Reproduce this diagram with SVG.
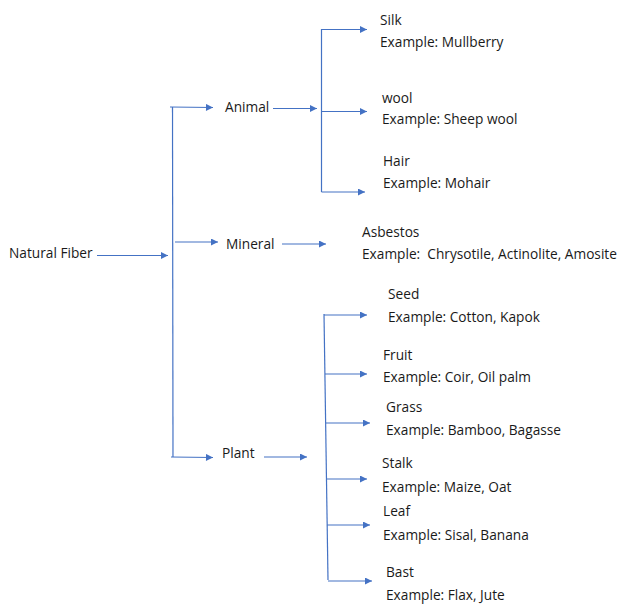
<svg xmlns="http://www.w3.org/2000/svg" width="623" height="604" viewBox="0 0 623 604">
<defs>
<marker id="ah" viewBox="0 0 10 10" refX="10" refY="5" markerWidth="8" markerHeight="7" markerUnits="userSpaceOnUse" orient="auto">
<path d="M0,0 L10,5 L0,10 z" fill="#4472C4"/>
</marker>
<style>
text{font-family:"Open Sans","Liberation Sans",Arial,sans-serif;font-size:13.7px;fill:#1a1a1a}
.c line{stroke:#4472C4;stroke-width:1.2;fill:none}
.c line.a{marker-end:url(#ah)}
</style>
</defs>
<rect width="623" height="604" fill="#fff"/>
<g id="connectors" class="c">
<line class="a" x1="97" y1="255.5" x2="168" y2="255.5"/>
<line x1="172.5" y1="107" x2="173" y2="457"/>
<line class="a" x1="170" y1="107" x2="213" y2="107.5"/>
<line class="a" x1="175" y1="242" x2="218" y2="242"/>
<line class="a" x1="171" y1="457" x2="213" y2="457.5"/>
<line class="a" x1="273" y1="108.5" x2="317" y2="108.5"/>
<line class="a" x1="282" y1="244" x2="326" y2="244"/>
<line class="a" x1="264" y1="457" x2="307" y2="457"/>
<line x1="321.5" y1="29" x2="321.5" y2="192"/>
<line class="a" x1="321.5" y1="29.5" x2="367" y2="29.5"/>
<line class="a" x1="321.5" y1="111.5" x2="367" y2="111.5"/>
<line class="a" x1="321.5" y1="192" x2="365" y2="192"/>
<line x1="324" y1="314" x2="328" y2="580"/>
<line class="a" x1="324" y1="315" x2="367" y2="315"/>
<line class="a" x1="325" y1="374" x2="367" y2="374"/>
<line class="a" x1="326" y1="423" x2="370" y2="423"/>
<line class="a" x1="326" y1="479" x2="367" y2="479"/>
<line class="a" x1="327" y1="525" x2="370" y2="525"/>
<line class="a" x1="328" y1="581" x2="372" y2="581"/>
</g>
<g id="natural-fiber"><text x="9" y="258">Natural Fiber</text></g>
<g id="animal"><text x="225" y="112">Animal</text></g>
<g id="mineral"><text x="226" y="249">Mineral</text></g>
<g id="plant"><text x="222" y="458">Plant</text></g>
<g id="silk"><text x="380" y="25">Silk</text><text x="380" y="47">Example: Mullberry</text></g>
<g id="wool"><text x="382" y="103">wool</text><text x="382" y="124">Example: Sheep wool</text></g>
<g id="hair"><text x="383" y="166">Hair</text><text x="383" y="188">Example: Mohair</text></g>
<g id="asbestos"><text x="362" y="237">Asbestos</text><text x="362" y="259" xml:space="preserve">Example:  Chrysotile, Actinolite, Amosite</text></g>
<g id="seed"><text x="388" y="299">Seed</text><text x="388" y="322">Example: Cotton, Kapok</text></g>
<g id="fruit"><text x="383" y="360">Fruit</text><text x="383" y="382">Example: Coir, Oil palm</text></g>
<g id="grass"><text x="386" y="412">Grass</text><text x="386" y="435">Example: Bamboo, Bagasse</text></g>
<g id="stalk"><text x="382" y="468">Stalk</text><text x="382" y="492">Example: Maize, Oat</text></g>
<g id="leaf"><text x="383" y="516">Leaf</text><text x="383" y="540">Example: Sisal, Banana</text></g>
<g id="bast"><text x="386" y="577">Bast</text><text x="386" y="600">Example: Flax, Jute</text></g>
</svg>
